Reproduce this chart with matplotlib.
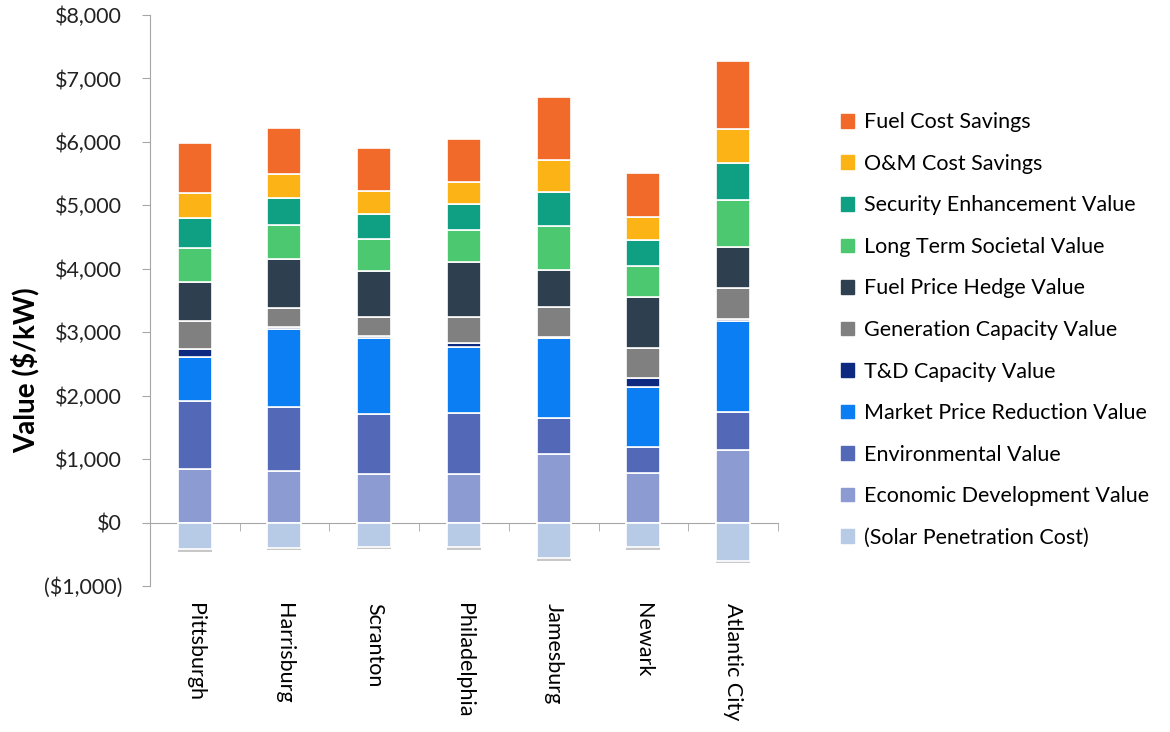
import matplotlib
matplotlib.use('Agg')
import matplotlib.pyplot as plt
import numpy as np
from matplotlib.patches import Patch
from matplotlib.ticker import FuncFormatter, FixedLocator

plt.rcParams['font.family'] = ['Lato', 'DejaVu Sans']

cities = ['Pittsburgh', 'Harrisburg', 'Scranton', 'Philadelphia',
          'Jamesburg', 'Newark', 'Atlantic City']

# value components, $/kW (stacked bottom to top)
economic_dev = [850, 815, 770, 770, 1085, 785, 1150]
environmental = [1060, 1000, 935, 960, 565, 410, 590]
market_price = [700, 1240, 1210, 1035, 1260, 940, 1435]
td_capacity = [125, 20, 20, 65, 20, 150, 40]
gen_capacity = [435, 300, 300, 410, 460, 465, 475]
fuel_hedge = [615, 780, 725, 860, 590, 805, 650]
long_term = [550, 540, 510, 510, 690, 490, 745]
security = [460, 420, 395, 410, 545, 405, 580]
om_savings = [400, 380, 355, 350, 505, 360, 535]
fuel_savings = [790, 730, 685, 680, 995, 695, 1075]
solar_cost = [-420, -400, -380, -390, -560, -390, -600]

positive = [
    ('Economic Development Value', economic_dev, '#8C9BD2'),
    ('Environmental Value', environmental, '#5468B8'),
    ('Market Price Reduction Value', market_price, '#0B7EF4'),
    ('T&D Capacity Value', td_capacity, '#0E2A80'),
    ('Generation Capacity Value', gen_capacity, '#808080'),
    ('Fuel Price Hedge Value', fuel_hedge, '#2E3F4F'),
    ('Long Term Societal Value', long_term, '#4CC870'),
    ('Security Enhancement Value', security, '#0FA084'),
    ('O&M Cost Savings', om_savings, '#FBB316'),
    ('Fuel Cost Savings', fuel_savings, '#F26A2A'),
]
solar_label = '(Solar Penetration Cost)'
solar_color = '#B8CBE6'

fig = plt.figure(figsize=(11.7, 7.32), dpi=100)
ax = fig.add_axes([0.128, 0.1995, 0.537, 0.78])

x = np.arange(len(cities))
w = 0.38
bottom = np.zeros(len(cities))
for name, vals, col in positive:
    vals = np.array(vals, dtype=float)
    ax.bar(x, vals, w, bottom=bottom, color=col, edgecolor='white',
           linewidth=1.2, zorder=3)
    bottom += vals
ax.bar(x, solar_cost, w, color=solar_color, edgecolor='white',
       linewidth=1.2, zorder=3)
# faint shadow under the negative segment
ax.bar(x, [-40] * len(x), w, bottom=solar_cost, color='#c8c8c8',
       linewidth=0, zorder=2)

ax.set_xlim(-0.5, len(cities) - 0.5)
ax.set_ylim(-1000, 8000)
ax.set_yticks(np.arange(-1000, 8001, 1000))

def money(v, pos):
    if v < 0:
        return '(${:,.0f})'.format(-v)
    return '${:,.0f}'.format(v)

ax.yaxis.set_major_formatter(FuncFormatter(money))
ax.tick_params(axis='y', direction='out', length=6, color='#a6a6a6',
               labelsize=15.5, labelcolor='#222222', pad=14)

for s in ['top', 'right']:
    ax.spines[s].set_visible(False)
ax.spines['left'].set_color('#a6a6a6')
ax.spines['bottom'].set_color('#a6a6a6')
ax.spines['bottom'].set_position(('data', 0))
ax.spines['bottom'].set_zorder(1)

ax.set_xticks(x)
ax.set_xticklabels(cities, rotation=270, ha='center', va='top', fontsize=15.5)
ax.xaxis.set_minor_locator(FixedLocator(np.arange(0.5, len(cities), 1.0)))
ax.tick_params(axis='x', which='major', length=0, pad=58)
ax.tick_params(axis='x', which='minor', direction='out', length=6,
               color='#a6a6a6')

ax.set_ylabel('Value ($/kW)', fontsize=20, fontweight='bold')
ax.yaxis.set_label_coords(-0.176, 0.378)

handles = [Patch(color=c, label=n) for n, v, c in positive[::-1]]
handles.append(Patch(color=solar_color, label=solar_label))
fig.legend(handles=handles, loc='upper left',
           bbox_to_anchor=(822 / 1170, 1 - 93 / 732), frameon=False,
           fontsize=15.5, handlelength=0.6, handleheight=0.6,
           handletextpad=0.45, labelspacing=1.0)

fig.savefig('out.png', dpi=100)
